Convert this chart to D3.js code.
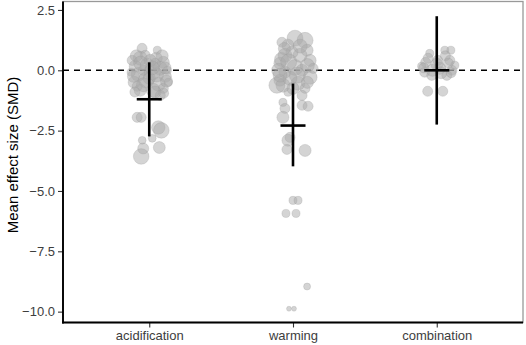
<!DOCTYPE html>
<html>
<head>
<meta charset="utf-8">
<script src="https://cdn.jsdelivr.net/npm/d3@7"></script>
<style>
  body { margin: 0; background: #fff; }
  text { font-family: "Liberation Sans", Arial, Helvetica, sans-serif; }
</style>
</head>
<body>
<svg id="chart" width="526" height="345"></svg>
<script>
// categories and summary stats (mean effect, 95% CI)
const categories = ["acidification", "warming", "combination"];
const means = [-1.2, -2.29, 0.0];
const ciLow = [-2.74, -3.98, -2.25];
const ciHigh = [0.33, -0.55, 2.24];
const yTicks = [2.5, 0, -2.5, -5, -7.5, -10];

// individual effect sizes: [jitter (category units), SMD, weight]
const acidification = [
  [-0.05, 0.91, 2.5], [-0.063, 0.50, 4.8], [0.049, 0.50, 3.6], [0.098, 0.33, 3.6],
  [-0.098, 0.17, 3.6], [-0.014, 0.21, 4.8], [0.077, 0.08, 4.8], [-0.077, -0.17, 4.8],
  [0.021, -0.08, 6.3], [0.112, -0.25, 3.6], [-0.105, -0.50, 3.6], [-0.021, -0.41, 6.3],
  [0.063, -0.58, 4.8], [-0.063, -0.83, 3.6], [0.028, -0.83, 4.8], [0.098, -0.75, 2.5],
  [0.126, 0.0, 1.6], [-0.126, -0.08, 1.6], [-0.028, 0.62, 2.5], [0.056, 0.83, 1.6],
  [0.0, -0.33, 3.6], [-0.084, -0.66, 2.5], [0.133, -0.50, 1.6], [-0.042, 0.0, 2.5],
  [0.042, 0.29, 2.5], [0.077, -1.04, 2.5], [-0.119, 0.41, 2.5], [0.007, 0.41, 3.6],
  [-0.09, 0.6, 3.6], [0.09, 0.6, 3.6], [0.11, 0.1, 3.6], [-0.11, -0.25, 3.6],
  [0.05, -0.2, 4.8], [-0.04, -0.6, 4.8], [0.1, -0.95, 2.5], [-0.1, -0.9, 2.5],
  [0.02, 0.1, 4.8], [-0.06, 0.3, 4.8], [0.04, -0.9, 3.6], [0.12, -0.45, 3.6],
  [-0.084, -1.95, 2.5], [-0.056, -1.95, 2.5], [0.063, -2.37, 4.5], [0.084, -2.49, 6.0],
  [0.021, -2.82, 1.5], [-0.049, -2.90, 1.5], [-0.042, -3.24, 3.0], [0.070, -3.20, 3.5],
  [-0.056, -3.57, 6.0]
];
const warming = [
  [0.014, 1.33, 6.3], [0.084, 1.24, 6.3], [-0.035, 1.04, 3.6], [0.098, 0.83, 3.6],
  [-0.056, 0.62, 4.8], [-0.091, 0.29, 3.6], [0.119, 0.41, 3.6], [-0.056, -0.08, 3.6],
  [-0.091, -0.41, 3.6], [0.119, -0.29, 4.8], [0.014, 0.12, 6.3], [0.035, -0.54, 4.8],
  [-0.070, -0.62, 4.8], [-0.112, -0.62, 6.3], [0.049, 0.62, 4.8], [-0.007, 0.75, 3.6],
  [0.063, 0.0, 3.6], [-0.021, -0.33, 4.8], [0.084, -0.75, 2.5], [-0.035, -0.91, 1.6],
  [0.140, 0.08, 2.5], [-0.077, 1.16, 2.5],
  [-0.08, 0.45, 4.8], [0.1, 0.2, 4.8], [-0.1, 0.0, 4.8], [0.03, -0.2, 6.3],
  [0.1, -0.5, 3.6], [-0.09, -0.2, 4.8], [0.05, 1.0, 4.8], [-0.03, 0.35, 6.3],
  [0.0, -0.75, 3.6], [-0.06, 0.9, 3.6],
  [0.063, -1.04, 2.5], [-0.07, -1.33, 1.6], [0.063, -1.45, 2.5], [0.105, -1.49, 2.5],
  [-0.056, -1.58, 2.5], [-0.070, -1.95, 3.6], [-0.021, -2.78, 2.5], [-0.035, -2.90, 3.6],
  [-0.042, -3.28, 2.5], [0.084, -3.32, 3.6], [0.0, -5.39, 1.6], [0.035, -5.39, 1.6],
  [-0.049, -5.93, 1.6], [0.021, -5.93, 1.6], [0.098, -8.96, 1.2], [-0.028, -9.88, 0.6],
  [0.007, -9.88, 0.6]
];
const combination = [
  [0.056, 0.83, 1.6], [0.098, 0.83, 1.6], [-0.049, 0.70, 1.6], [-0.077, 0.33, 2.5],
  [0.007, 0.41, 2.5], [0.091, 0.41, 2.5], [-0.084, -0.08, 2.5], [0.105, 0.0, 2.5],
  [0.021, 0.08, 3.6], [-0.035, -0.21, 2.5], [0.070, -0.21, 2.5], [-0.063, -0.87, 2.5],
  [0.042, -0.87, 2.5], [0.126, 0.21, 1.6], [-0.105, 0.17, 1.6],
  [0.0, 0.25, 3.6], [-0.06, 0.5, 2.5], [0.06, 0.6, 2.5], [0.03, -0.1, 3.6],
  [-0.09, 0.1, 2.5], [0.1, -0.1, 2.5], [-0.03, 0.0, 3.6], [0.08, 0.3, 2.5]
];
const pointSets = [acidification, warming, combination];

const margin = { top: 1.5, right: 3, bottom: 22.5, left: 63 };
const W = 526, H = 345;
const width = W - margin.left - margin.right,
      height = H - margin.top - margin.bottom;

const svg = d3.select("#chart");
const g = svg.append("g").attr("transform", `translate(${margin.left},${margin.top})`);

// discrete axis like ggplot: positions 1..3 with 0.6 expansion
const x = d3.scaleLinear().domain([0.4, 3.6]).range([0, width]);
const y = d3.scaleLinear().domain([-10.45, 2.85]).range([height, 0]);
const r = d3.scaleSqrt().domain([0, 8]).range([0, 9]);

// panel border (grey)
g.append("rect")
  .attr("x", 0).attr("y", 0)
  .attr("width", width).attr("height", height)
  .attr("fill", "none").attr("stroke", "#999").attr("stroke-width", 1.3);

// zero reference line
g.append("line")
  .attr("x1", 0).attr("x2", width)
  .attr("y1", y(0)).attr("y2", y(0))
  .attr("stroke", "#000").attr("stroke-width", 1.4)
  .attr("stroke-dasharray", "6,5");

// points
let points = [];
pointSets.forEach((set, i) => {
  set.forEach(d => points.push({ cat: i + 1, dx: d[0], v: d[1], w: d[2] }));
});
g.append("g").selectAll("circle")
  .data(points)
  .enter().append("circle")
  .attr("cx", d => x(d.cat + d.dx))
  .attr("cy", d => y(d.v))
  .attr("r", d => r(d.w))
  .attr("fill", "#aaa").attr("fill-opacity", 0.5)
  .attr("stroke", "#999").attr("stroke-opacity", 0.35).attr("stroke-width", 0.8);

// mean + CI crosses
const cross = g.append("g").attr("stroke", "#000").attr("stroke-width", 2.6);
categories.forEach((c, i) => {
  cross.append("line")
    .attr("x1", x(i + 1)).attr("x2", x(i + 1))
    .attr("y1", y(ciHigh[i])).attr("y2", y(ciLow[i]));
  cross.append("line")
    .attr("x1", x(i + 1 - 0.087)).attr("x2", x(i + 1 + 0.087))
    .attr("y1", y(means[i])).attr("y2", y(means[i]));
});

// axes
const yAxis = g.append("g")
  .call(d3.axisLeft(y).tickValues(yTicks).tickFormat(d3.format(".1f")).tickSize(5).tickPadding(3));
const xAxis = g.append("g")
  .attr("transform", `translate(0,${height})`)
  .call(d3.axisBottom(x).tickValues([1, 2, 3]).tickFormat(d => categories[d - 1]).tickSize(5).tickPadding(3));

[yAxis, xAxis].forEach(a => {
  a.select(".domain").remove();
  a.selectAll(".tick line").attr("stroke", "#333").attr("stroke-width", 1.1);
  a.selectAll(".tick text").attr("fill", "#3d3d3d").style("font-size", "13px")
    .style("font-family", "'Liberation Sans', Arial, sans-serif");
});

// black axis lines
g.append("line").attr("x1", 0).attr("x2", 0).attr("y1", 0).attr("y2", height + 0.9)
  .attr("stroke", "#000").attr("stroke-width", 1.9);
g.append("line").attr("x1", -0.9).attr("x2", width).attr("y1", height).attr("y2", height)
  .attr("stroke", "#000").attr("stroke-width", 1.9);

// y title
svg.append("text")
  .attr("transform", `translate(18,155) rotate(-90)`)
  .attr("text-anchor", "middle")
  .style("font-size", "15px")
  .attr("fill", "#000")
  .text("Mean effect size (SMD)");
</script>
</body>
</html>
